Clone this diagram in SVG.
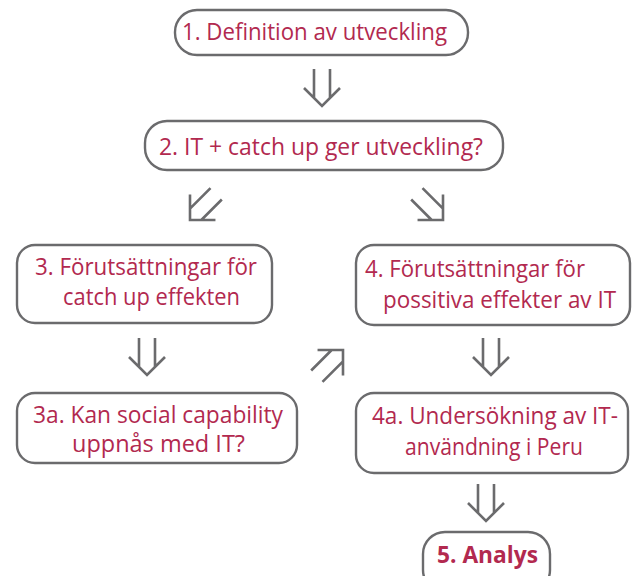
<svg xmlns="http://www.w3.org/2000/svg" xmlns:xlink="http://www.w3.org/1999/xlink" width="633" height="576" viewBox="0 0 633 576">
  <style>
    .box { fill: #ffffff; stroke: #6b6b6d; stroke-width: 2.4; }
    .lbl { font-family: "Open Sans", "Noto Sans", "Liberation Sans", sans-serif; font-size: 23.5px; fill: #b2294f; }
    .bold { font-weight: bold; }
    .arr { fill: none; stroke: #6b6b6d; stroke-width: 2.6; stroke-linecap: butt; stroke-linejoin: miter; }
  </style>
  <defs>
    <!-- double-shafted arrow, apex at origin, pointing along +y -->
    <g id="dblArrow" class="arr">
      <path d="M-8,-37 V-8 M8,-37 V-8 M-18,-18 L0,0 L18,-18"/>
    </g>
  </defs>

  <rect width="633" height="576" fill="#ffffff"/>

  <g id="connectors">
    <use xlink:href="#dblArrow" transform="translate(322,106)"/>
    <use xlink:href="#dblArrow" transform="translate(190,220) rotate(45)"/>
    <use xlink:href="#dblArrow" transform="translate(443,220) rotate(-45)"/>
    <use xlink:href="#dblArrow" transform="translate(147,375)"/>
    <use xlink:href="#dblArrow" transform="translate(343,350) rotate(-135)"/>
    <use xlink:href="#dblArrow" transform="translate(491,375)"/>
    <use xlink:href="#dblArrow" transform="translate(486,521)"/>
  </g>

  <g id="node1">
    <rect class="box" x="175" y="10" width="293" height="45" rx="22"/>
    <text class="lbl" x="182" y="40" textLength="265" lengthAdjust="spacingAndGlyphs">1. Definition av utveckling</text>
  </g>

  <g id="node2">
    <rect class="box" x="145" y="121" width="358" height="49" rx="22"/>
    <text class="lbl" x="159" y="155" textLength="324" lengthAdjust="spacingAndGlyphs">2. IT + catch up ger utveckling?</text>
  </g>

  <g id="node3">
    <rect class="box" x="17" y="245" width="255" height="78" rx="18"/>
    <text class="lbl" x="35" y="275" textLength="222" lengthAdjust="spacingAndGlyphs">3.  Förutsättningar för</text>
    <text class="lbl" x="63" y="305" textLength="177" lengthAdjust="spacingAndGlyphs">catch up effekten</text>
  </g>

  <g id="node4">
    <rect class="box" x="356" y="245" width="274" height="80" rx="18"/>
    <text class="lbl" x="365" y="277" textLength="220" lengthAdjust="spacingAndGlyphs">4. Förutsättningar för</text>
    <text class="lbl" x="383" y="308" textLength="233" lengthAdjust="spacingAndGlyphs">possitiva effekter av IT</text>
  </g>

  <g id="node3a">
    <rect class="box" x="17" y="393" width="280" height="70" rx="18"/>
    <text class="lbl" x="33" y="423" textLength="250" lengthAdjust="spacingAndGlyphs">3a.  Kan social capability</text>
    <text class="lbl" x="72" y="452" textLength="173" lengthAdjust="spacingAndGlyphs">uppnås med IT?</text>
  </g>

  <g id="node4a">
    <rect class="box" x="356" y="393" width="272" height="80" rx="18"/>
    <text class="lbl" x="372" y="424" textLength="246" lengthAdjust="spacingAndGlyphs">4a. Undersökning av IT-</text>
    <text class="lbl" x="405" y="455" textLength="178" lengthAdjust="spacingAndGlyphs">användning i Peru</text>
  </g>

  <g id="node5">
    <rect class="box" x="423" y="532" width="127" height="60" rx="22"/>
    <text class="lbl bold" x="437" y="563" textLength="101" lengthAdjust="spacingAndGlyphs">5. Analys</text>
  </g>
</svg>
